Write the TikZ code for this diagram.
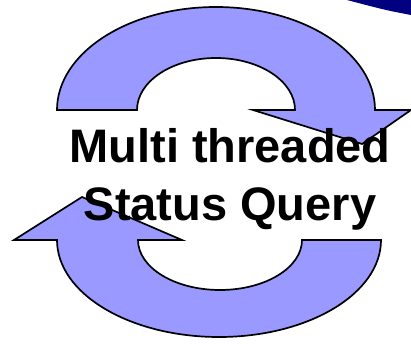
\documentclass[tikz,border=0pt]{standalone}
\usepackage{fontspec}
\setmainfont{Liberation Sans}
\definecolor{loopblue}{HTML}{9999FF}
\definecolor{navy}{HTML}{000080}
\tikzset{
  looparrow/.style={fill=loopblue,draw=black,line width=1.7pt,line join=miter},
  looptext/.style={anchor=base,font=\fontsize{47}{57}\selectfont\bfseries,inner sep=0pt}
}
\begin{document}
\begin{tikzpicture}[x=1pt,y=-1pt]
\useasboundingbox (0,0) rectangle (411,344);
\fill[navy] (347,0) -- (411,0) -- (411,15) .. controls (385,10) .. (347,0) -- cycle;
% upper arrow, pointing down on the right
\draw[looparrow] (57,110) arc[start angle=180,end angle=0,x radius=159,y radius=-103]
  -- (411,110) -- (362,144) -- (253,110) -- (295,110)
  arc[start angle=0,end angle=180,x radius=79,y radius=-52] -- cycle;
% lower arrow, pointing up on the left
\draw[looparrow] (57,240) arc[start angle=180,end angle=360,x radius=162,y radius=-97]
  -- (302,240) arc[start angle=0,end angle=-180,x radius=82,y radius=-50]
  -- (182,240) -- (82,197) -- (14,240) -- cycle;
\node[looptext] (line1) at (230,163) {Multi threaded};
\node[looptext] (line2) at (230,220) {Status Query};
\end{tikzpicture}
\end{document}
